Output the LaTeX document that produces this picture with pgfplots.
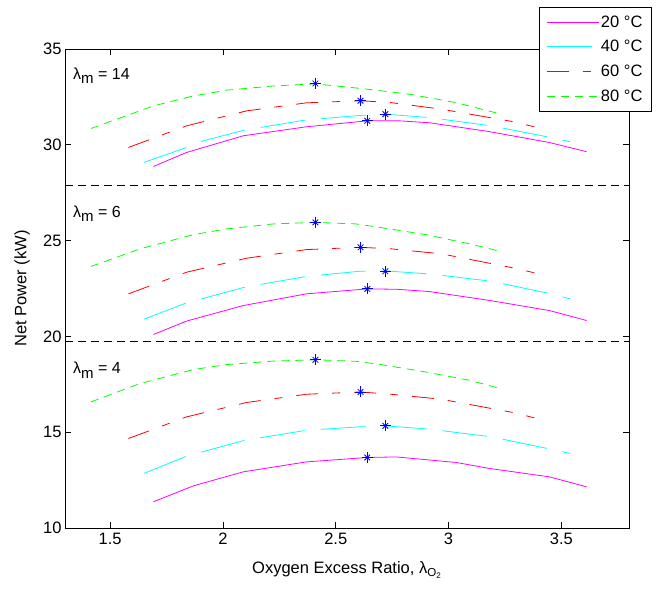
\documentclass[border=0pt]{standalone}
\usepackage{fontspec}
\setmainfont{Liberation Sans}
\usepackage{pgfplots}
\pgfplotsset{compat=1.18}
\definecolor{mg}{rgb}{1,0,1}
\definecolor{cy}{rgb}{0,1,1}
\definecolor{rd}{rgb}{1,0,0}
\definecolor{gr}{rgb}{0,1,0}
\definecolor{bl}{rgb}{0,0,1}
\newcommand{\fs}{\fontsize{16.5}{19}\selectfont}
\newcommand{\lm}[1]{λ\raisebox{-4.5pt}{\fontsize{15}{15}\selectfont m} = #1}
\begin{document}
\begin{tikzpicture}
\path[use as bounding box] (-65pt,-61pt) rectangle (600pt,528pt);
\begin{axis}[
  at={(0,0)}, anchor=south west,
  width=564pt, height=479pt, scale only axis,
  xmin=1.3, xmax=3.8, ymin=10, ymax=35,
  xtick={1.5,2,2.5,3,3.5}, ytick={10,15,20,25,30,35},
  tick align=inside, major tick length=6pt,
  axis line style={line width=0.8pt, black},
  every tick/.style={black, line width=0.8pt},
  /pgf/number format/assume math mode=true,
  tick label style={font=\fs},
  xticklabel style={yshift=-1.5pt},
  xlabel={Oxygen Excess Ratio, λ\textsubscript{O\textsubscript{2}}},
  ylabel={Net Power (kW)},
  label style={font=\fs},
  xlabel style={at={(axis description cs:0.5,0)}, anchor=base, yshift=-46pt},
  ylabel style={at={(axis description cs:0,0.5)}, anchor=center, yshift=43pt},
  legend style={at={(0.8404,1.0877)}, anchor=north west, draw=black, fill=white,
    font=\fs, inner xsep=7pt, inner ysep=6.5pt, row sep=7.6pt,
    /tikz/every even column/.append style={column sep=2pt}},
  legend cell align=left,
  legend image code/.code={\draw[#1] (0pt,0pt) -- (52pt,0pt);},
]
% lambda_m = 14
\addplot[color=mg, draw=mg, line width=0.8pt, solid] coordinates {(1.692,28.87) (1.839,29.60) (2.09,30.47) (2.37,30.94) (2.606,31.21) (2.64,31.25) (2.77,31.26) (2.916,31.15) (3.18,30.69) (3.447,30.12) (3.612,29.64)};
\addlegendentry{20 °C}
\addplot[color=cy, draw=cy, line width=0.8pt, dash pattern=on 45pt off 16pt] coordinates {(1.65,29.08) (1.839,29.86) (1.913,30.21) (2.097,30.77) (2.37,31.30) (2.606,31.53) (2.72,31.6) (2.916,31.42) (3.189,30.99) (3.454,30.38) (3.539,30.16)};
\addlegendentry{40 °C}
\addplot[color=rd, draw=rd, line width=0.8pt, dash pattern=on 22pt off 14pt on 8pt off 14pt] coordinates {(1.581,29.86) (1.839,30.99) (2.105,31.77) (2.37,32.19) (2.61,32.3) (2.746,32.2) (2.968,31.86) (3.285,31.21) (3.38,30.94)};
\addlegendentry{60 °C}
\addplot[color=gr, draw=gr, line width=0.8pt, dash pattern=on 8pt off 6pt] coordinates {(1.415,30.85) (1.692,32.03) (1.869,32.55) (2.016,32.85) (2.223,33.07) (2.41,33.18) (2.62,32.93) (2.827,32.64) (3.034,32.2) (3.233,31.6)};
\addlegendentry{80 °C}
% lambda_m = 6
\addplot[color=mg, line width=0.8pt, solid, forget plot] coordinates {(1.692,20.10) (1.839,20.80) (2.09,21.61) (2.37,22.22) (2.64,22.48) (2.77,22.46) (2.916,22.34) (3.18,21.88) (3.447,21.35) (3.612,20.83)};
\addplot[color=cy, line width=0.8pt, dash pattern=on 45pt off 16pt, forget plot] coordinates {(1.65,20.90) (1.839,21.75) (2.097,22.57) (2.37,23.13) (2.606,23.40) (2.72,23.42) (2.916,23.26) (3.189,22.88) (3.454,22.22) (3.539,21.96)};
\addplot[color=rd, line width=0.8pt, dash pattern=on 22pt off 14pt on 8pt off 14pt, forget plot] coordinates {(1.581,22.22) (1.839,23.35) (2.105,24.08) (2.37,24.53) (2.61,24.65) (2.746,24.57) (2.968,24.31) (3.285,23.58) (3.38,23.32)};
\addplot[color=gr, line width=0.8pt, dash pattern=on 8pt off 6pt, forget plot] coordinates {(1.415,23.65) (1.633,24.57) (1.869,25.31) (2.016,25.61) (2.223,25.87) (2.41,25.95) (2.59,25.87) (2.695,25.69) (2.901,25.31) (3.093,24.83) (3.229,24.44)};
% lambda_m = 4
\addplot[color=mg, line width=0.8pt, solid, forget plot] coordinates {(1.692,11.37) (1.869,12.20) (2.09,12.93) (2.37,13.45) (2.64,13.68) (2.768,13.71) (3.034,13.42) (3.18,13.11) (3.447,12.67) (3.612,12.15)};
\addplot[color=cy, line width=0.8pt, dash pattern=on 45pt off 16pt, forget plot] coordinates {(1.65,12.85) (1.839,13.75) (2.097,14.58) (2.37,15.10) (2.606,15.28) (2.72,15.33) (2.916,15.16) (3.189,14.76) (3.454,14.11) (3.539,13.89)};
\addplot[color=rd, line width=0.8pt, dash pattern=on 22pt off 14pt on 8pt off 14pt, forget plot] coordinates {(1.581,14.67) (1.839,15.80) (2.105,16.55) (2.37,16.98) (2.61,17.10) (2.746,16.98) (2.968,16.72) (3.285,16.03) (3.38,15.75)};
\addplot[color=gr, line width=0.8pt, dash pattern=on 8pt off 6pt, forget plot] coordinates {(1.415,16.58) (1.633,17.54) (1.869,18.27) (2.016,18.53) (2.223,18.71) (2.41,18.78) (2.59,18.70) (2.695,18.54) (2.901,18.14) (3.093,17.71) (3.229,17.28)};
% separators
\addplot[black, line width=0.8pt, dash pattern=on 8pt off 5pt, forget plot] coordinates {(1.3,27.87) (3.8,27.87)};
\addplot[black, line width=0.8pt, dash pattern=on 8pt off 5pt, forget plot] coordinates {(1.3,19.75) (3.8,19.75)};
% optimum markers
\addplot[bl, line width=0.8pt, only marks, mark=+, mark size=5.5pt, forget plot] coordinates {(2.41,33.2) (2.61,32.3) (2.72,31.6) (2.64,31.25) (2.41,25.95) (2.61,24.65) (2.72,23.4) (2.64,22.48) (2.41,18.78) (2.61,17.1) (2.72,15.33) (2.64,13.68)};
\addplot[bl, line width=0.8pt, only marks, mark=x, mark size=4pt, forget plot] coordinates {(2.41,33.2) (2.61,32.3) (2.72,31.6) (2.64,31.25) (2.41,25.95) (2.61,24.65) (2.72,23.4) (2.64,22.48) (2.41,18.78) (2.61,17.1) (2.72,15.33) (2.64,13.68)};
\node[anchor=base west, font=\fontsize{16}{19}\selectfont, inner sep=0pt] at (axis cs:1.3355,33.43) {\lm{14}};
\node[anchor=base west, font=\fontsize{16}{19}\selectfont, inner sep=0pt] at (axis cs:1.3355,26.23) {\lm{6}};
\node[anchor=base west, font=\fontsize{16}{19}\selectfont, inner sep=0pt] at (axis cs:1.3355,18.04) {\lm{4}};
\end{axis}
\end{tikzpicture}
\end{document}
